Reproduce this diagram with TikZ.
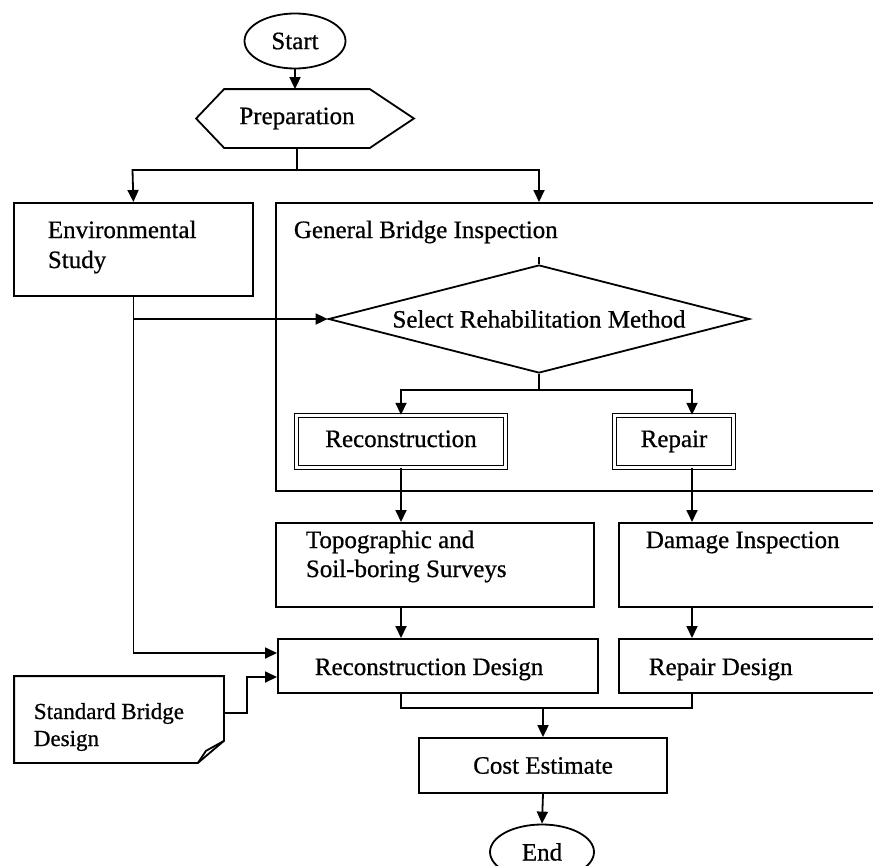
\documentclass[tikz,border=0pt]{standalone}
\usepackage{fontspec}
\setmainfont[FakeBold=0.7]{Liberation Serif}
\usetikzlibrary{arrows.meta,shapes.geometric}
\begin{document}
\begin{tikzpicture}[x=1pt,y=-1pt,
  line width=1.8pt,
  every node/.style={font=\fontsize{25}{30}\selectfont, inner sep=0pt},
  arr/.style={-{Triangle[length=12pt,width=11pt]}},
  box/.style={draw, rectangle, anchor=north west},
  dbox/.style={draw, rectangle, double, double distance=2.2pt, line width=1.4pt,
    text height=17pt, text depth=6pt},
  txt/.style={anchor=base west},
  small/.style={font=\fontsize{23}{28}\selectfont},
  term/.style={draw, ellipse, minimum width=101pt, minimum height=55pt},
]
\useasboundingbox (0,0) rectangle (873,865);
\clip (0,0) rectangle (873,865);

% terminals and preparation step
\node[term] (start) at (295,41) {Start};
\node[minimum width=144pt, minimum height=57pt] (prep) at (297,118.5) {Preparation};
\draw (prep.north west) -- (prep.north east) -- ([xshift=44pt]prep.east)
      -- (prep.south east) -- (prep.south west) -- ([xshift=-28pt]prep.west) -- cycle;

% environmental study
\node[box, minimum width=239pt, minimum height=93pt] (env) at (13,202) {};
\node[txt] (envA) at (47,238) {Environmental};
\node[txt] (envB) at (47,268) {Study};

% general bridge inspection frame (runs off the right edge)
\node[box, minimum width=700pt, minimum height=288pt] (gbi) at (275,202) {};
\node[txt] (gbiA) at (293,238) {General Bridge Inspection};
\node[draw, diamond, aspect=3.9, minimum width=421pt, minimum height=108pt] (sel) at (539,319) {Select Rehabilitation Method};
\coordinate (gbiIn) at (539,257);

\node[dbox, minimum width=209pt, minimum height=52pt] (recon) at (401,441.5) {Reconstruction};
\node[dbox, minimum width=119pt, minimum height=52pt] (repair) at (674,441.5) {Repair};

% surveys and inspection
\node[box, minimum width=318pt, minimum height=84pt] (topo) at (275,522) {};
\node[txt] (topoA) at (305,548) {Topographic and};
\node[txt] (topoB) at (305,577) {Soil-boring Surveys};
\node[box, minimum width=400pt, minimum height=84pt] (damage) at (618,522) {};
\node[txt] (damA) at (645,548) {Damage Inspection};

% design
\node[box, minimum width=320pt, minimum height=54pt] (rdes) at (277,638) {};
\node[txt] (rdesA) at (314,675) {Reconstruction Design};
\node[box, minimum width=400pt, minimum height=54pt] (repdes) at (618,638) {};
\node[txt] (repdesA) at (648,675) {Repair Design};

% standard design document
\node[minimum width=208pt, minimum height=85pt] (std) at (119,719.5) {};
\draw (std.north west) -- (std.north east) -- ([yshift=22pt]std.south east)
      -- ([xshift=-26pt]std.south east) -- (std.south west) -- cycle;
\draw[line join=round] ([xshift=-26pt]std.south east) -- ([xshift=-18pt,yshift=12pt]std.south east)
      -- ([yshift=22pt]std.south east);
\node[txt, small] (stdA) at (33,719) {Standard Bridge};
\node[txt, small] (stdB) at (33,746) {Design};

% cost and end
\node[draw, minimum width=248pt, minimum height=55pt] (cost) at (543,765.5) {Cost Estimate};
\node[term, minimum width=104pt] (end) at (542,852) {End};

% connectors
\coordinate (brL) at (132.5,170);
\coordinate (brR) at (539,170);
\coordinate (rdIn1) at (277,653);
\coordinate (rdIn2) at (277,677);
\coordinate (jog) at (247,695);
\coordinate (stdOut) at (223,713);
\coordinate (brB1) at (401,390);
\coordinate (brB2) at (692,390);
\coordinate (bjL) at (401,708);
\coordinate (bjR) at (692,708);

\draw[arr] (start.south) -- (start.south |- prep.north);
\draw (prep.south) -- (prep.south |- brL);
\draw[arr] (brR) -- (brL) -- (env.north);
\draw[arr] (brL) -- (brR) -- (brR |- gbi.north);
\draw (gbiIn) -- (sel.north);
\draw[arr] (env.south) |- (sel.west);
\draw[arr] (env.south) |- (rdIn1);
\draw[arr] (stdOut) -| (jog) |- (rdIn2);

\draw (sel.south) -- (sel.south |- brB1);
\draw[arr] (brB2) -- (brB1) -- (recon.north);
\draw[arr] (brB1) -- (brB2) -- (brB2 |- repair.north);
\draw[arr] (recon.south) -- (recon.south |- topo.north);
\draw[arr] (brB2 |- repair.south) -- (brB2 |- damage.north);
\draw[arr] (recon.south |- topo.south) -- (recon.south |- rdes.north);
\draw[arr] (brB2 |- damage.south) -- (brB2 |- repdes.north);
\draw (recon.south |- rdes.south) -- (bjL) -- (bjR) -- (bjR |- repdes.south);
\draw[arr] (cost.north |- bjL) -- (cost.north);
\draw[arr] (cost.south) -- (end.north);
\end{tikzpicture}
\end{document}
